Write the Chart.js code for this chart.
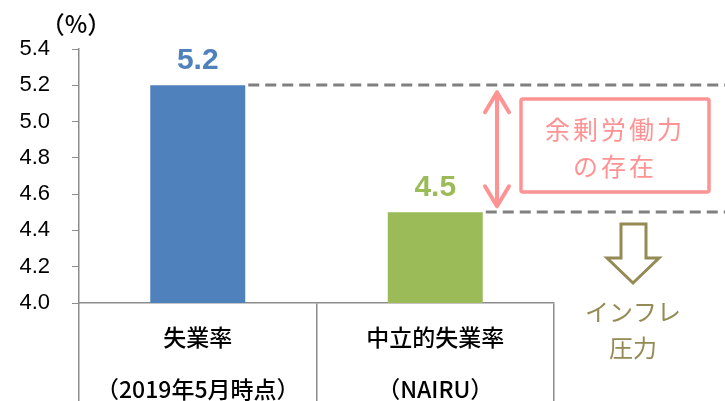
<!DOCTYPE html>
<html>
<head>
<meta charset="utf-8">
<script src="https://cdn.jsdelivr.net/npm/chart.js@4"></script>
<style>
  html, body { margin: 0; padding: 0; background: #fff; }
  #wrap { width: 725px; height: 401px; }
</style>
</head>
<body>
<div id="wrap"><canvas id="nairuChart" width="725" height="401"></canvas></div>
<script>
const categories = [
  ['失業率', '（2019年5月時点）'],
  ['中立的失業率', '（NAIRU）']
];
const rates = [5.2, 4.5];
const barColors = ['#4F81BD', '#9BBB59'];
const yTicks = [4.0, 4.2, 4.4, 4.6, 4.8, 5.0, 5.2, 5.4];
const slackLabel = ['余剰労働力', 'の存在'];
const inflationLabel = ['インフレ', '圧力'];

const FONT = '"Liberation Sans", "Noto Sans CJK JP", sans-serif';
const JP = '"Noto Sans CJK JP", sans-serif';

const overlay = {
  id: 'overlay',
  afterDraw(chart) {
    const ctx = chart.ctx;
    const x = chart.scales.x;
    const y = chart.scales.y;
    const bars = chart.getDatasetMeta(0).data;
    ctx.save();

    // unit
    ctx.fillStyle = '#000';
    ctx.font = '500 24px ' + JP;
    ctx.textAlign = 'center';
    ctx.textBaseline = 'middle';
    ctx.fillText('（%）', 76, 24);

    // category labels
    ctx.font = '500 23px ' + JP;
    categories.forEach((lines, i) => {
      const cx = x.getPixelForValue(i);
      ctx.fillText(lines[0], cx, 337);
      ctx.fillText(lines[1], cx, 389);
    });

    // value labels
    ctx.font = 'bold 30px ' + FONT;
    ctx.textBaseline = 'alphabetic';
    bars.forEach((b, i) => {
      ctx.fillStyle = barColors[i];
      ctx.fillText(rates[i].toFixed(1), b.x, b.y - 16);
    });

    // dashed reference lines
    ctx.strokeStyle = '#808080';
    ctx.lineWidth = 3;
    ctx.setLineDash([11, 6]);
    bars.forEach((b, i) => {
      const py = Math.round(y.getPixelForValue(rates[i]));
      ctx.beginPath();
      ctx.moveTo(b.x + b.width / 2 + 3, py);
      ctx.lineTo(chart.width, py);
      ctx.stroke();
    });
    ctx.setLineDash([]);

    // pink double arrow between the two levels
    const top = y.getPixelForValue(rates[0]) + 7;
    const bot = y.getPixelForValue(rates[1]) - 6;
    const ax = 497;
    ctx.strokeStyle = '#FF9393';
    ctx.lineWidth = 4;
    ctx.lineCap = 'round';
    ctx.lineJoin = 'round';
    ctx.beginPath();
    ctx.moveTo(ax, top); ctx.lineTo(ax, bot);
    ctx.moveTo(ax - 12, top + 20); ctx.lineTo(ax, top); ctx.lineTo(ax + 12, top + 20);
    ctx.moveTo(ax - 12, bot - 20); ctx.lineTo(ax, bot); ctx.lineTo(ax + 12, bot - 20);
    ctx.stroke();

    // pink box
    ctx.lineWidth = 3.5;
    ctx.beginPath();
    ctx.roundRect(521, 99, 188, 93, 2);
    ctx.stroke();
    ctx.fillStyle = '#FF9393';
    ctx.font = '25px ' + JP;
    ctx.textAlign = 'center';
    ctx.textBaseline = 'middle';
    ctx.letterSpacing = '3px';
    ctx.fillText(slackLabel[0], 615, 129);
    ctx.fillText(slackLabel[1], 615, 166);
    ctx.letterSpacing = '0px';

    // olive down arrow (outline)
    ctx.strokeStyle = '#948A54';
    ctx.lineWidth = 3;
    ctx.lineJoin = 'miter';
    ctx.beginPath();
    ctx.moveTo(621, 224);
    ctx.lineTo(646, 224);
    ctx.lineTo(646, 258);
    ctx.lineTo(659, 258);
    ctx.lineTo(633, 283);
    ctx.lineTo(607, 258);
    ctx.lineTo(621, 258);
    ctx.closePath();
    ctx.stroke();

    ctx.fillStyle = '#948A54';
    ctx.font = '24px ' + JP;
    ctx.fillText(inflationLabel[0], 633, 312);
    ctx.fillText(inflationLabel[1], 633, 348);

    ctx.restore();
  }
};

new Chart(document.getElementById('nairuChart').getContext('2d'), {
  type: 'bar',
  data: {
    labels: categories.map(c => c[0]),
    datasets: [{
      data: rates,
      backgroundColor: barColors,
      categoryPercentage: 1,
      barPercentage: 0.4
    }]
  },
  options: {
    responsive: false,
    animation: false,
    devicePixelRatio: 1,
    layout: { padding: { left: 0, right: 171, top: 49, bottom: 0 } },
    plugins: {
      legend: { display: false },
      tooltip: { enabled: false }
    },
    scales: {
      x: {
        afterFit(scale) { scale.height = 98; },
        ticks: { display: false },
        grid: {
          offset: true,
          drawOnChartArea: false,
          drawTicks: true,
          tickLength: 98,
          color: '#8C8C8C',
          lineWidth: 1.5
        },
        border: { color: '#8C8C8C', width: 1.5 }
      },
      y: {
        min: 4.0,
        max: 5.4,
        afterFit(scale) { scale.width = 79; },
        afterBuildTicks(scale) { scale.ticks = yTicks.map(v => ({ value: v })); },
        ticks: {
          padding: 22,
          color: '#000',
          font: { family: FONT, size: 22 },
          callback: v => v.toFixed(1)
        },
        grid: {
          drawOnChartArea: false,
          drawTicks: true,
          tickLength: 7,
          color: '#8C8C8C'
        },
        border: { color: '#8C8C8C', width: 1.5 }
      }
    }
  },
  plugins: [overlay]
});
</script>
</body>
</html>
